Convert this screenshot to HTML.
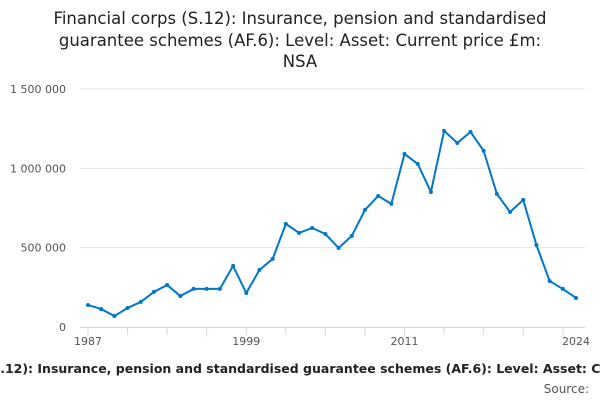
<!DOCTYPE html>
<html><head><meta charset="utf-8"><style>
body{margin:0;background:#fff;width:600px;height:400px;overflow:hidden;font-family:"DejaVu Sans","Liberation Sans",sans-serif}
</style></head><body>
<svg width="600" height="400" style="position:absolute;left:0;top:0">
<g font-family="DejaVu Sans, Liberation Sans, sans-serif" fill="#222" font-size="16.5" text-anchor="middle">
<text x="300" y="24">Financial corps (S.12): Insurance, pension and standardised</text>
<text x="300" y="46">guarantee schemes (AF.6): Level: Asset: Current price £m:</text>
<text x="300" y="67">NSA</text>
</g>
<g id="grid"></g><g id="xaxis"></g><g id="series"></g>
<text x="312" y="373" text-anchor="middle" font-size="12.5" font-weight="bold" fill="#222">Financial corps (S.12): Insurance, pension and standardised guarantee schemes (AF.6): Level: Asset: Current price £m: NSA</text>
<text x="589" y="393" text-anchor="end" font-size="12" fill="#555">Source:</text>
</svg>
<script>
const years=[];for(let y=1987;y<=2024;y++)years.push(y);
const values=[139,113,69,120,158,221,265,195,240,240,240,385,214,360,429,650,593,624,586,498,574,738,826,776,1091,1028,851,1236,1160,1230,1110,839,725,801,517,290,240,183];
const yTicks=[0,500000,1000000,1500000];
const yTickLabels=["0","500 000","1 000 000","1 500 000"];
const xLabels=[1987,1999,2011,2024];
const xTickYears=[1987,1990,1993,1996,1999,2002,2005,2008,2011,2014,2017,2020,2023];
const NS="http://www.w3.org/2000/svg";
const xs=y=>88+(y-1987)*(576-88)/37;
const ys=v=>327-v*(327-89)/1500000;
function mk(t,a,p){const e=document.createElementNS(NS,t);for(const k in a)e.setAttribute(k,a[k]);p.appendChild(e);return e;}
const g=document.getElementById('grid'),xa=document.getElementById('xaxis'),s=document.getElementById('series');
yTicks.forEach((v,i)=>{
 if(i>0){const l=mk('line',{x1:80,x2:585,y1:ys(v),y2:ys(v),stroke:'#e6e6e6','stroke-width':1},g);
 
 }
 const t=mk('text',{x:66,y:ys(v)+4,'text-anchor':'end','font-size':11,fill:'#555'},g);t.textContent=yTickLabels[i];
 
 
});
const ax=mk('line',{x1:80,x2:585,y1:327.5,y2:327.5,stroke:'#ccd6eb','stroke-width':1},xa);


xTickYears.forEach(y=>{const l=mk('line',{x1:xs(y),x2:xs(y),y1:327,y2:335,stroke:'#ccd6eb','stroke-width':1},xa);
 
 });
xLabels.forEach(y=>{const t=mk('text',{x:xs(y),y:345,'text-anchor':'middle','font-size':11,fill:'#555'},xa);t.textContent=y;
 
 });
const pts=years.map((y,i)=>xs(y)+','+ys(values[i]*1000)).join(' ');
const pl=mk('polyline',{points:pts,fill:'none',stroke:'#0077c8','stroke-width':2,'stroke-linejoin':'round'},s);


years.forEach((y,i)=>{const c=mk('circle',{cx:xs(y),cy:ys(values[i]*1000),r:2,fill:'#0077c8'},s);
 
 });
</script>
</body></html>
